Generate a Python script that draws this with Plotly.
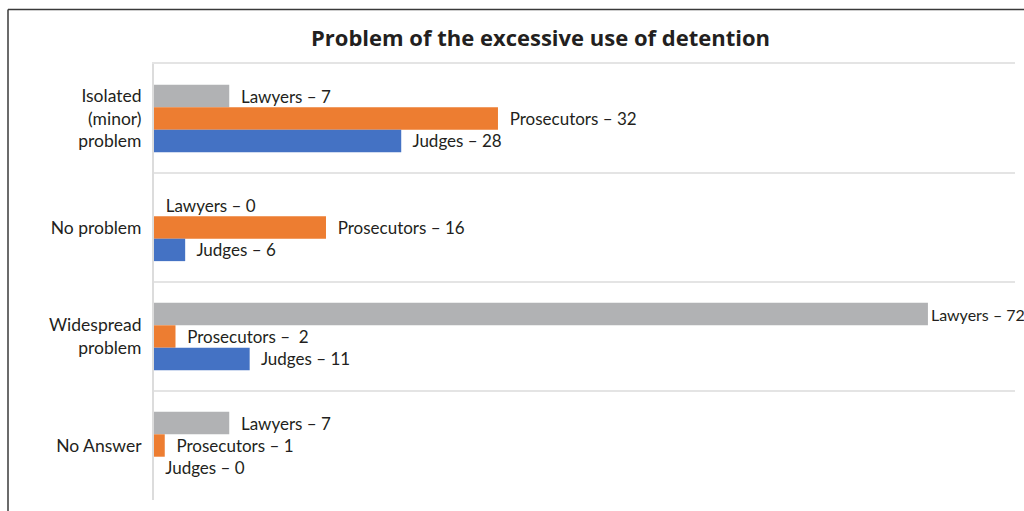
import plotly.graph_objects as go

# ---- data ----
categories = ["Isolated<br>(minor)<br>problem", "No problem", "Widespread<br>problem", "No Answer"]
series_names = ["Lawyers", "Prosecutors", "Judges"]
lawyers = [7, 0, 72, 7]
prosecutors = [32, 16, 2, 1]
judges = [23, 2.9, 8.9, 0]            # bar lengths as drawn in the source
lawyers_labels = ["7", "0", "72", "7"]
prosecutors_labels = ["32", "16", " 2", "1"]
judges_labels = ["28", "6", "11", "0"]
colors = ["#B1B2B4", "#ED7D31", "#4472C4"]
title_text = "Problem of the excessive use of detention"

FONT = "Lato"
TXT = "#231F20"
NB = "\u00a0"

fig = go.Figure()
for name, vals, labs, col in zip(series_names,
                                 [lawyers, prosecutors, judges],
                                 [lawyers_labels, prosecutors_labels, judges_labels],
                                 colors):
    texts, sizes = [], []
    for v, l in zip(vals, labs):
        pad = "" if v > 60 else NB * 2
        extra = NB if l.startswith(" ") else ""
        texts.append(f"{pad}{name} –{extra} {l.strip()}")
        sizes.append(16 if v > 60 else 17)
    fig.add_trace(go.Bar(
        name=name,
        y=categories,
        x=vals,
        orientation="h",
        marker=dict(color=col, line=dict(width=0)),
        text=texts,
        textposition="outside",
        constraintext="none",
        cliponaxis=False,
        textfont=dict(family=FONT, size=sizes, color=TXT),
        outsidetextfont=dict(family=FONT, size=sizes, color=TXT),
        hoverinfo="skip",
    ))

fig.update_layout(
    width=1024, height=511,
    barmode="group",
    bargap=0.383,
    bargroupgap=0,
    showlegend=False,
    plot_bgcolor="white",
    paper_bgcolor="white",
    margin=dict(l=154, r=9, t=64, b=11),
    title=dict(text=f"<b>{title_text}</b>", x=(540.5 - 154) / 861, xref="paper",
               xanchor="center", y=1 - 38.5 / 511, yref="container", yanchor="middle",
               font=dict(family="Open Sans", size=22, color=TXT)),
    font=dict(family=FONT, size=17, color=TXT),
    xaxis=dict(range=[0, 80.1], showgrid=False, zeroline=False, showticklabels=False,
               ticks="", side="top", showline=True, linecolor="#E4E4E4", linewidth=2,
               fixedrange=True),
    yaxis=dict(type="category", range=[3.5, -0.5], tickson="boundaries",
               showgrid=True, gridcolor="#E4E4E4", gridwidth=2,
               showline=True, linecolor="#DCDCDC", linewidth=2,
               ticks="", ticklabelstandoff=7,
               tickfont=dict(family=FONT, size=17.5, color=TXT), fixedrange=True),
    shapes=[
        dict(type="line", xref="paper", yref="paper",
             x0=(8 - 154) / 861, x1=(8 - 154) / 861,
             y0=(500 - 9.5) / 436, y1=(500 - 520) / 436,
             line=dict(color="#3A3A3A", width=1.5)),
        dict(type="line", xref="paper", yref="paper",
             x0=(8 - 154) / 861, x1=(1030 - 154) / 861,
             y0=(500 - 9.5) / 436, y1=(500 - 9.5) / 436,
             line=dict(color="#3A3A3A", width=1.5)),
    ],
)

fig.write_html("out.html", config={"displayModeBar": False},
               post_script="document.body.style.margin='0';")
